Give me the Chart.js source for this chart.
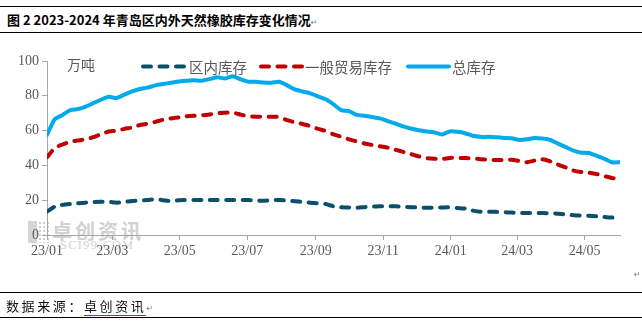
<!DOCTYPE html>
<html>
<head>
<meta charset="utf-8">
<script src="https://cdn.jsdelivr.net/npm/chart.js@4.4.1/dist/chart.umd.min.js"></script>
<style>
  html, body { margin: 0; padding: 0; background: #fff; }
  #wrap { position: relative; width: 642px; height: 324px; overflow: hidden; background: #fff; }
  #title { position: absolute; left: 0; top: 6px; width: 642px; height: 27px; border-top: 1.5px solid #000; border-bottom: 1.5px solid #000; box-sizing: border-box; }
  #title span.t { position: absolute; left: 7px; top: 3px; font-family: "Noto Sans CJK SC", sans-serif; font-weight: bold; font-size: 13px; color: #000; white-space: nowrap; }
  .ret { font-family: "DejaVu Sans", sans-serif; font-size: 8px; color: #777; font-weight: normal; }
  #footer { position: absolute; left: 0; top: 292px; width: 642px; height: 26px; border-top: 1.5px solid #000; border-bottom: 1.5px solid #000; box-sizing: border-box; }
  #footer span.t { position: absolute; left: 6px; top: 3px; font-family: "Noto Sans CJK SC", sans-serif; font-size: 13px; letter-spacing: 2.6px; color: #111; white-space: nowrap; }
  #footer u { text-decoration: none; border-bottom: 1.5px solid #1e5fd8; }
  #wm { position: absolute; left: 28px; top: 219px; color: #d2d2d2; }
  #wm .logo { position: absolute; left: 0; top: 2px; width: 9px; height: 22px; background: #d6d6d6; }
  #wm .logo2 { position: absolute; left: 10px; top: 2px; width: 12px; height: 22px; background-image: radial-gradient(#d0d0d0 1px, transparent 1.3px); background-size: 4px 4px; }
  #wm .cn { position: absolute; left: 24px; top: -3px; font-family: "Noto Sans CJK SC", sans-serif; font-weight: bold; font-size: 20px; letter-spacing: 3px; white-space: nowrap; }
  #wm .en { position: absolute; left: 32px; top: 19px; font-family: "Liberation Serif", serif; font-size: 12px; letter-spacing: 1.5px; white-space: nowrap; }
  #c { position: absolute; left: 0; top: 0; }
  #rmark { position: absolute; left: 634px; top: 270px; }
</style>
</head>
<body>
<div id="wrap">
  <div id="title"><span class="t">图 2 2023-2024 年青岛区内外天然橡胶库存变化情况<span class="ret">↵</span></span></div>
  <div id="wm"><div class="logo"></div><div class="logo2"></div><div class="cn">卓创资讯</div><div class="en">SCI99.COM</div></div>
  <canvas id="c" width="642" height="324"></canvas>
  <div id="rmark" class="ret">↵</div>
  <div id="footer"><span class="t">数据来源：<u>卓创资讯</u><span class="ret">↵</span></span></div>
</div>
<script>
// Tick labels on the time axis and their day offsets from the first weekly observation
const tickLabels = ['23/01', '23/03', '23/05', '23/07', '23/09', '23/11', '24/01', '24/03', '24/05'];
const tickDays = [0, 59, 120, 181, 243, 304, 365, 425, 486];

// Series names
const seriesNames = ['区内库存', '一般贸易库存', '总库存'];

// 区内库存 (weekly, 万吨)
const bondedStock = [
  13.4, 16.3, 17.3, 17.8, 18.2, 18.6, 19.0, 19.1, 19.1, 18.6,
  19.0, 19.5, 19.8, 20.1, 20.5, 20.0, 19.5, 20.0, 20.1, 20.1,
  20.1, 20.1, 20.1, 20.1, 20.1, 20.1, 20.1, 19.8, 19.7, 20.0,
  20.1, 19.8, 19.4, 19.0, 18.6, 18.2, 17.8, 16.5, 15.9, 15.8,
  15.7, 16.0, 16.3, 16.5, 16.6, 16.5, 16.3, 16.0, 15.8, 15.7,
  15.7, 15.8, 15.9, 15.5, 15.2, 14.0, 13.4, 13.4, 13.3, 13.1,
  12.9, 12.7, 12.6, 12.6, 12.6, 12.5, 12.2, 11.8, 11.4, 11.1,
  11.1, 10.8, 10.3, 10.0, 9.6
];

// 一般贸易库存 (weekly, 万吨)
const generalTradeStock = [
  44.7, 50.0, 52.0, 53.6, 54.3, 55.0, 56.2, 58.0, 59.5, 60.0,
  61.0, 61.8, 63.2, 64.0, 65.0, 66.3, 67.0, 67.6, 68.2, 68.5,
  68.7, 69.3, 70.0, 70.3, 70.3, 69.2, 68.2, 68.0, 68.0, 68.0,
  67.8, 66.0, 64.8, 63.8, 62.6, 61.0, 59.8, 57.8, 56.5, 55.0,
  53.8, 52.6, 51.7, 51.0, 50.2, 49.0, 47.8, 46.5, 45.2, 44.2,
  43.8, 43.7, 44.3, 44.3, 44.2, 44.0, 43.6, 43.3, 43.1, 43.1,
  43.2, 42.5, 41.8, 42.8, 43.5, 42.3, 40.5, 38.8, 37.0, 36.2,
  35.8, 35.0, 33.8, 32.7, 32.2
];

// 总库存 (weekly, 万吨)
const totalStock = [
  57.5, 66.5, 69.0, 71.8, 72.4, 73.8, 75.8, 77.8, 79.4, 78.7,
  80.7, 82.5, 83.9, 84.7, 86.0, 86.8, 87.5, 88.2, 88.7, 88.9,
  88.7, 89.6, 90.6, 90.0, 91.2, 89.5, 88.1, 88.1, 87.6, 87.5,
  88.1, 86.0, 83.7, 82.5, 81.4, 79.7, 78.0, 75.1, 71.8, 71.2,
  69.0, 68.5, 67.8, 67.0, 65.5, 64.0, 62.4, 61.2, 60.2, 59.5,
  59.0, 57.8, 59.5, 59.3, 58.5, 57.0, 56.4, 56.4, 56.2, 55.8,
  55.6, 54.6, 55.0, 55.8, 55.4, 54.6, 52.5, 50.5, 48.5, 47.3,
  47.1, 45.5, 43.8, 41.8, 41.8
];

const yTicks = [0, 20, 40, 60, 80, 100];
const unitLabel = '万吨';

// weekly observations -> day offsets
const toPoints = arr => arr.map((v, i) => ({ x: i * 7, y: v }));

const legendPlugin = {
  id: 'customLegend',
  afterDraw(chart) {
    const ctx = chart.ctx;
    ctx.save();
    const items = [
      { ds: 0, x0: 143, x1: 184, tx: 189 },
      { ds: 1, x0: 261, x1: 302, tx: 305 },
      { ds: 2, x0: 408, x1: 449, tx: 452 }
    ];
    const y = 66.5;
    items.forEach(it => {
      const ds = chart.data.datasets[it.ds];
      ctx.beginPath();
      ctx.lineWidth = ds.borderWidth;
      ctx.strokeStyle = ds.borderColor;
      ctx.lineCap = ds.borderCapStyle || 'butt';
      ctx.setLineDash(ds.borderDash || []);
      ctx.moveTo(it.x0, y);
      ctx.lineTo(it.x1, y);
      ctx.stroke();
      ctx.setLineDash([]);
      ctx.fillStyle = '#595959';
      ctx.font = '14.5px "Noto Sans CJK SC", sans-serif';
      ctx.textBaseline = 'middle';
      ctx.textAlign = 'left';
      ctx.fillText(ds.label, it.tx, y + 1);
    });
    ctx.font = '14px "Noto Sans CJK SC", sans-serif';
    ctx.fillStyle = '#595959';
    ctx.fillText(unitLabel, 67, 65);
    ctx.restore();
  }
};

const dashed = [8, 8.5];

new Chart(document.getElementById('c'), {
  type: 'line',
  data: {
    datasets: [
      { label: seriesNames[0], data: toPoints(bondedStock), borderColor: '#0b4f6c', borderWidth: 4, borderDash: dashed, borderCapStyle: 'round', pointRadius: 0, tension: 0.2, fill: false },
      { label: seriesNames[1], data: toPoints(generalTradeStock), borderColor: '#c00000', borderWidth: 4, borderDash: dashed, borderCapStyle: 'round', pointRadius: 0, tension: 0.2, fill: false },
      { label: seriesNames[2], data: toPoints(totalStock), borderColor: '#00aaeb', borderWidth: 4, borderCapStyle: 'round', borderJoinStyle: 'round', pointRadius: 0, tension: 0.2, fill: false }
    ]
  },
  options: {
    responsive: false,
    animation: false,
    devicePixelRatio: 1,
    layout: { padding: { left: 0, top: 61, right: 22, bottom: 64 } },
    plugins: { legend: { display: false }, tooltip: { enabled: false }, title: { display: false } },
    scales: {
      x: {
        type: 'linear',
        min: 0,
        max: (totalStock.length - 1) * 7,
        afterBuildTicks: s => { s.ticks = tickDays.map(v => ({ value: v })); },
        afterFit: s => { s.height = 25; },
        ticks: {
          autoSkip: false,
          maxRotation: 0,
          padding: 3,
          color: '#595959',
          font: { family: '"Liberation Serif", serif', size: 14 },
          callback: (v) => { const k = tickDays.indexOf(v); return k >= 0 ? tickLabels[k] : ''; }
        },
        grid: { display: true, drawOnChartArea: false, drawTicks: true, tickLength: 5, color: '#a6a6a6', lineWidth: 1 },
        border: { display: true, color: '#a6a6a6', width: 1 }
      },
      y: {
        min: 0,
        max: 100,
        afterBuildTicks: s => { s.ticks = yTicks.map(v => ({ value: v })); },
        afterFit: s => { s.width = 47; },
        ticks: {
          padding: 3,
          color: '#595959',
          font: { family: '"Liberation Serif", serif', size: 14 }
        },
        grid: { display: true, drawOnChartArea: false, drawTicks: true, tickLength: 5, color: '#a6a6a6', lineWidth: 1 },
        border: { display: true, color: '#a6a6a6', width: 1 }
      }
    }
  },
  plugins: [legendPlugin]
});
</script>
</body>
</html>
